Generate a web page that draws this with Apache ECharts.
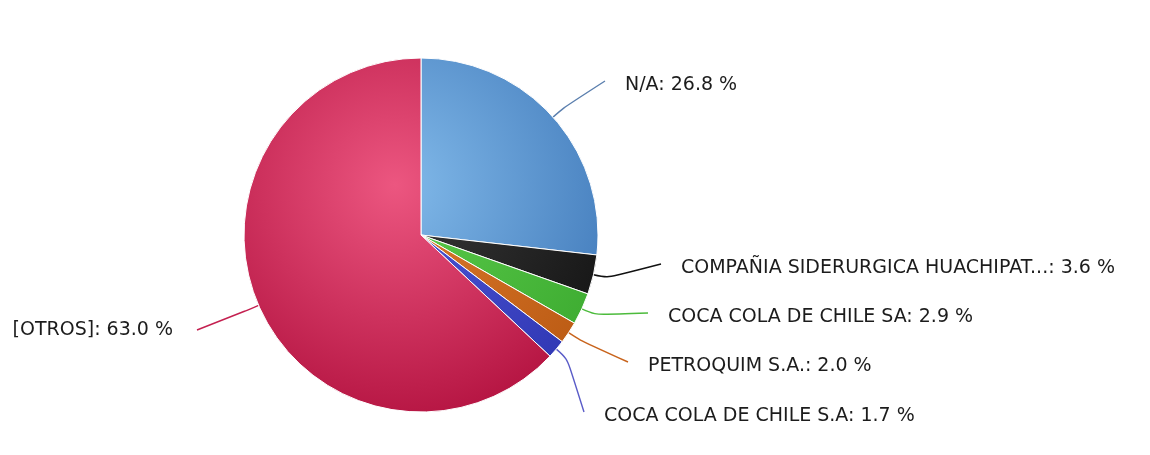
<!DOCTYPE html>
<html>
<head>
<meta charset="utf-8">
<script src="https://cdn.jsdelivr.net/npm/echarts@6/dist/echarts.min.js"></script>
<style>html,body{margin:0;padding:0;background:#fff;}#c{width:1150px;height:455px;}</style>
</head>
<body>
<div id="c"></div>
<script>
var categories = ['N/A', 'COMPAÑIA SIDERURGICA HUACHIPAT...', 'COCA COLA DE CHILE SA', 'PETROQUIM S.A.', 'COCA COLA DE CHILE S.A', '[OTROS]'];
var values = [26.8, 3.6, 2.9, 2.0, 1.7, 63.0];
var lightColors = ['#82baea', '#3a3a3a', '#5ccc4c', '#dd7a2c', '#5058d8', '#ec5680'];
var darkColors  = ['#3b74b6', '#111111', '#3aa82e', '#b85812', '#2c34b0', '#ae0c3a'];
var lineColors  = ['#5b7fae', '#111111', '#4cbb3c', '#c8631b', '#5a5cc8', '#c42050'];

// label anchor placement (left/right x of text, vertical centre)
var labelPos = [[625, 85, 'left'], [681, 268, 'left'], [668, 317, 'left'], [648, 366, 'left'], [604, 416, 'left'], [173, 330, 'right']];

var CX = 421, CY = 235, R = 177;

var data = categories.map(function (c, i) {
  return {
    name: c,
    value: values[i],
    itemStyle: {
      color: {
        type: 'radial', x: 395, y: 185, r: 270, global: true,
        colorStops: [{offset: 0, color: lightColors[i]}, {offset: 1, color: darkColors[i]}]
      }
    },
    labelLine: {lineStyle: {color: lineColors[i]}}
  };
});

var chart = echarts.init(document.getElementById('c'), null, {renderer: 'canvas'});
chart.setOption({
  animation: false,
  backgroundColor: '#ffffff',
  series: [{
    type: 'pie',
    center: [CX, CY],
    radius: [0, R],
    startAngle: 90,
    clockwise: true,
    avoidLabelOverlap: false,
    data: data,
    itemStyle: {borderColor: '#ffffff', borderWidth: 1},
    label: {
      show: true,
      formatter: function (p) { return p.name + ': ' + p.value.toFixed(1) + ' %'; },
      fontFamily: 'DejaVu Sans',
      fontSize: 19,
      color: '#1c1c1c'
    },
    labelLine: {show: true, length: 15, length2: 20, smooth: 0.35, lineStyle: {width: 1.4}},
    labelLayout: function (params) {
      var i = params.dataIndex;
      var lp = labelPos[i];
      var pts = params.labelLinePoints;
      var e = pts[0];
      var dx = e[0] - CX, dy = e[1] - CY, d = Math.sqrt(dx * dx + dy * dy);
      var mid = [e[0] + dx / d * 14, e[1] + dy / d * 14];
      var end = lp[2] === 'left' ? [lp[0] - 20, lp[1] - 4] : [lp[0] + 24, lp[1]];
      return {
        x: lp[0], y: lp[1], align: lp[2], verticalAlign: 'middle',
        labelLinePoints: [e, mid, end]
      };
    }
  }]
});
</script>
</body>
</html>
